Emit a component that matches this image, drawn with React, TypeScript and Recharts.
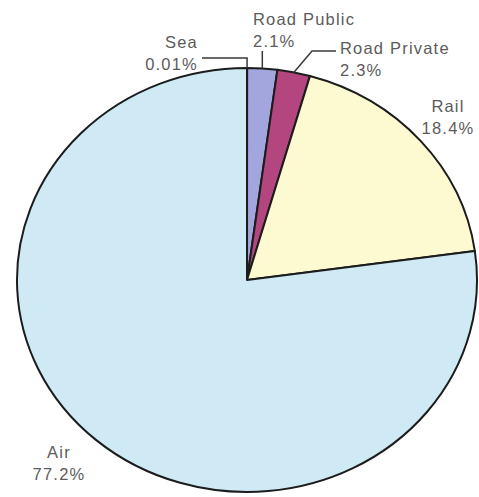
import { PieChart, Pie, Cell } from 'recharts'

// modal share, clockwise from 12 o'clock
const categories = ['Sea', 'Road Public', 'Road Private', 'Rail', 'Air']
const shares = [0.01, 2.1, 2.3, 18.4, 77.2]
const shareLabels = ['0.01%', '2.1%', '2.3%', '18.4%', '77.2%']
const colors = ['#a3a6dc', '#a3a6dc', '#b3467f', '#fdf9d0', '#cfeaf5']

const data = categories.map((name, i) => ({ name, value: shares[i], label: shareLabels[i] }))

const W = 479
const H = 497
const RY = 212
const ASPECT = 230 / 212 // the source pie is a little stretched sideways
const RAD = Math.PI / 180
const TEXT = '#5b5b5b'

// label placement: text x, anchor, first baseline, leader elbow points
const labelLayout: Record<string, { x: number; y: number; anchor: 'start' | 'middle' | 'end'; leader?: number[][] }> = {
  'Sea': { x: 198, y: 48, anchor: 'end', leader: [[202, 58], [-1, 58]] },
  'Road Public': { x: 253, y: 25, anchor: 'start', leader: [[-1, 51]] },
  'Road Private': { x: 340, y: 54, anchor: 'start', leader: [[336, 51], [312, 51]] },
  'Rail': { x: 448, y: 112, anchor: 'middle' },
  'Air': { x: 59, y: 458, anchor: 'middle' },
}

const onEllipse = (cx: number, cy: number, r: number, a: number) => [
  cx + r * ASPECT * Math.cos(-a * RAD),
  cy + r * Math.sin(-a * RAD),
]

function EllipseSector(props: any) {
  const { cx, cy, outerRadius, startAngle, endAngle, fill } = props
  const [x1, y1] = onEllipse(cx, cy, outerRadius, startAngle)
  const [x2, y2] = onEllipse(cx, cy, outerRadius, endAngle)
  const large = Math.abs(endAngle - startAngle) > 180 ? 1 : 0
  const sweep = endAngle < startAngle ? 1 : 0
  const d = `M${cx},${cy} L${x1},${y1} A${outerRadius * ASPECT},${outerRadius} 0 ${large} ${sweep} ${x2},${y2} Z`
  return <path d={d} fill={fill} stroke="#1c1c1c" strokeWidth={2} strokeLinejoin="round" />
}

function renderLabel(props: any) {
  const { cx, cy, midAngle, outerRadius, name, payload } = props
  const lay = labelLayout[name]
  if (!lay) return null
  const [ax, ay] = onEllipse(cx, cy, outerRadius, midAngle)
  let pts: number[][] = []
  if (lay.leader) {
    pts = lay.leader.map(p => [p[0] < 0 ? ax : p[0], p[1]])
    pts.push([ax, ay])
  }
  return (
    <g>
      {pts.length > 1 && (
        <polyline points={pts.map(p => p.join(',')).join(' ')} fill="none" stroke="#3a3a3a" strokeWidth={1.5} />
      )}
      <text x={lay.x} y={lay.y} textAnchor={lay.anchor} fill={TEXT} fontSize={16.5} letterSpacing={1.2}
        fontFamily="'Liberation Sans', Arial, sans-serif">
        <tspan x={lay.x}>{name}</tspan>
        <tspan x={lay.x} dy={22}>{payload?.label ?? props.label}</tspan>
      </text>
    </g>
  )
}

export default function App() {
  return (
    <div style={{ position: 'absolute', left: 0, top: 0, width: W, height: H, background: '#fff' }}>
      <PieChart width={W} height={H} margin={{ top: 0, right: 0, bottom: 0, left: 0 }}>
        <Pie
          data={data}
          dataKey="value"
          nameKey="name"
          cx={247}
          cy={280}
          outerRadius={RY}
          startAngle={90}
          endAngle={-270}
          stroke="#1c1c1c"
          shape={EllipseSector}
          activeShape={EllipseSector}
          inactiveShape={EllipseSector}
          label={renderLabel}
          labelLine={false}
          isAnimationActive={false}
        >
          {data.map((d, i) => <Cell key={d.name} fill={colors[i]} />)}
        </Pie>
      </PieChart>
    </div>
  )
}
